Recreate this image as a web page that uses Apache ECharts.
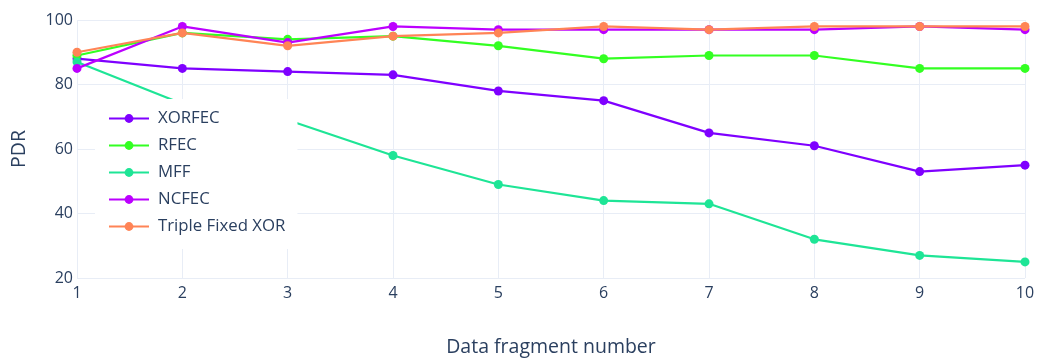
<!DOCTYPE html>
<html>
<head>
<meta charset="utf-8">
<script src="https://cdn.jsdelivr.net/npm/echarts@6/dist/echarts.min.js"></script>
<style>
  html, body { margin: 0; padding: 0; background: #fff; }
  #chart { width: 1038px; height: 358px; }
</style>
</head>
<body>
<div id="chart"></div>
<script>
// fragment numbers on the x axis
var fragments = [1, 2, 3, 4, 5, 6, 7, 8, 9, 10];

// PDR values
var xorfec = [88, 85, 84, 83, 78, 75, 65, 61, 53, 55];
var rfec = [89, 96, 94, 95, 92, 88, 89, 89, 85, 85];
var mff = [87, 74, 69, 58, 49, 44, 43, 32, 27, 25];
var ncfec = [85, 98, 93, 98, 97, 97, 97, 97, 98, 97];
var tripleXor = [90, 96, 92, 95, 96, 98, 97, 98, 98, 98];

var seriesNames = ["XORFEC", "RFEC", "MFF", "NCFEC", "Triple Fixed XOR"];
var seriesColors = ["#7f00ff", "#33ff22", "#1ee596", "#bc00ff", "#ff8456"];

var txtColor = "#2a3f5f";
var gridColor = "#e8edf6";
var fontName = "Open Sans";

function pairs (vals) {
  return fragments.map(function (f, i) { return [f, vals[i]]; });
}

var allValues = [xorfec, rfec, mff, ncfec, tripleXor];

var chart = echarts.init(document.getElementById("chart"), null, { renderer: "canvas" });

var option = {
  animation: false,
  backgroundColor: "#fff",
  textStyle: { fontFamily: fontName },
  grid: {
    left: 77,
    right: 13,
    top: 20,
    bottom: 80,
    containLabel: false,
    outerBoundsMode: "none"
  },
  legend: {
    orient: "vertical",
    left: 95,
    top: 99,
    padding: [11, 12, 14, 13],
    backgroundColor: "#fff",
    itemWidth: 40,
    itemHeight: 11,
    itemGap: 10,
    z: 10,
    textStyle: { fontFamily: fontName, fontSize: 16.8, color: txtColor, padding: [0, 0, 0, 4] },
    data: seriesNames
  },
  xAxis: {
    type: "value",
    min: 1,
    max: 10,
    interval: 1,
    name: "Data fragment number",
    nameLocation: "middle",
    nameGap: 59,
    nameTextStyle: { fontFamily: fontName, fontSize: 19.5, color: txtColor },
    axisLine: { show: false },
    axisTick: { show: false },
    axisLabel: { fontFamily: fontName, fontSize: 16, color: txtColor, margin: 7 },
    splitLine: { show: true, lineStyle: { color: gridColor, width: 1 } }
  },
  yAxis: {
    type: "value",
    min: 20,
    max: 100,
    interval: 20,
    name: "PDR",
    nameLocation: "middle",
    nameGap: 48,
    nameTextStyle: { fontFamily: fontName, fontSize: 19.5, color: txtColor },
    axisLine: { show: false },
    axisTick: { show: false },
    axisLabel: { fontFamily: fontName, fontSize: 16, color: txtColor, margin: 4 },
    splitLine: { show: true, lineStyle: { color: gridColor, width: 1 } }
  },
  series: seriesNames.map(function (name, i) {
    return {
      name: name,
      type: "line",
      data: pairs(allValues[i]),
      symbol: "circle",
      symbolSize: 9,
      showSymbol: true,
      clip: true,
      lineStyle: { width: 2.2, color: seriesColors[i] },
      itemStyle: { color: seriesColors[i] },
      z: 2 + i * 0.01
    };
  })
};

chart.setOption(option);
</script>
</body>
</html>
